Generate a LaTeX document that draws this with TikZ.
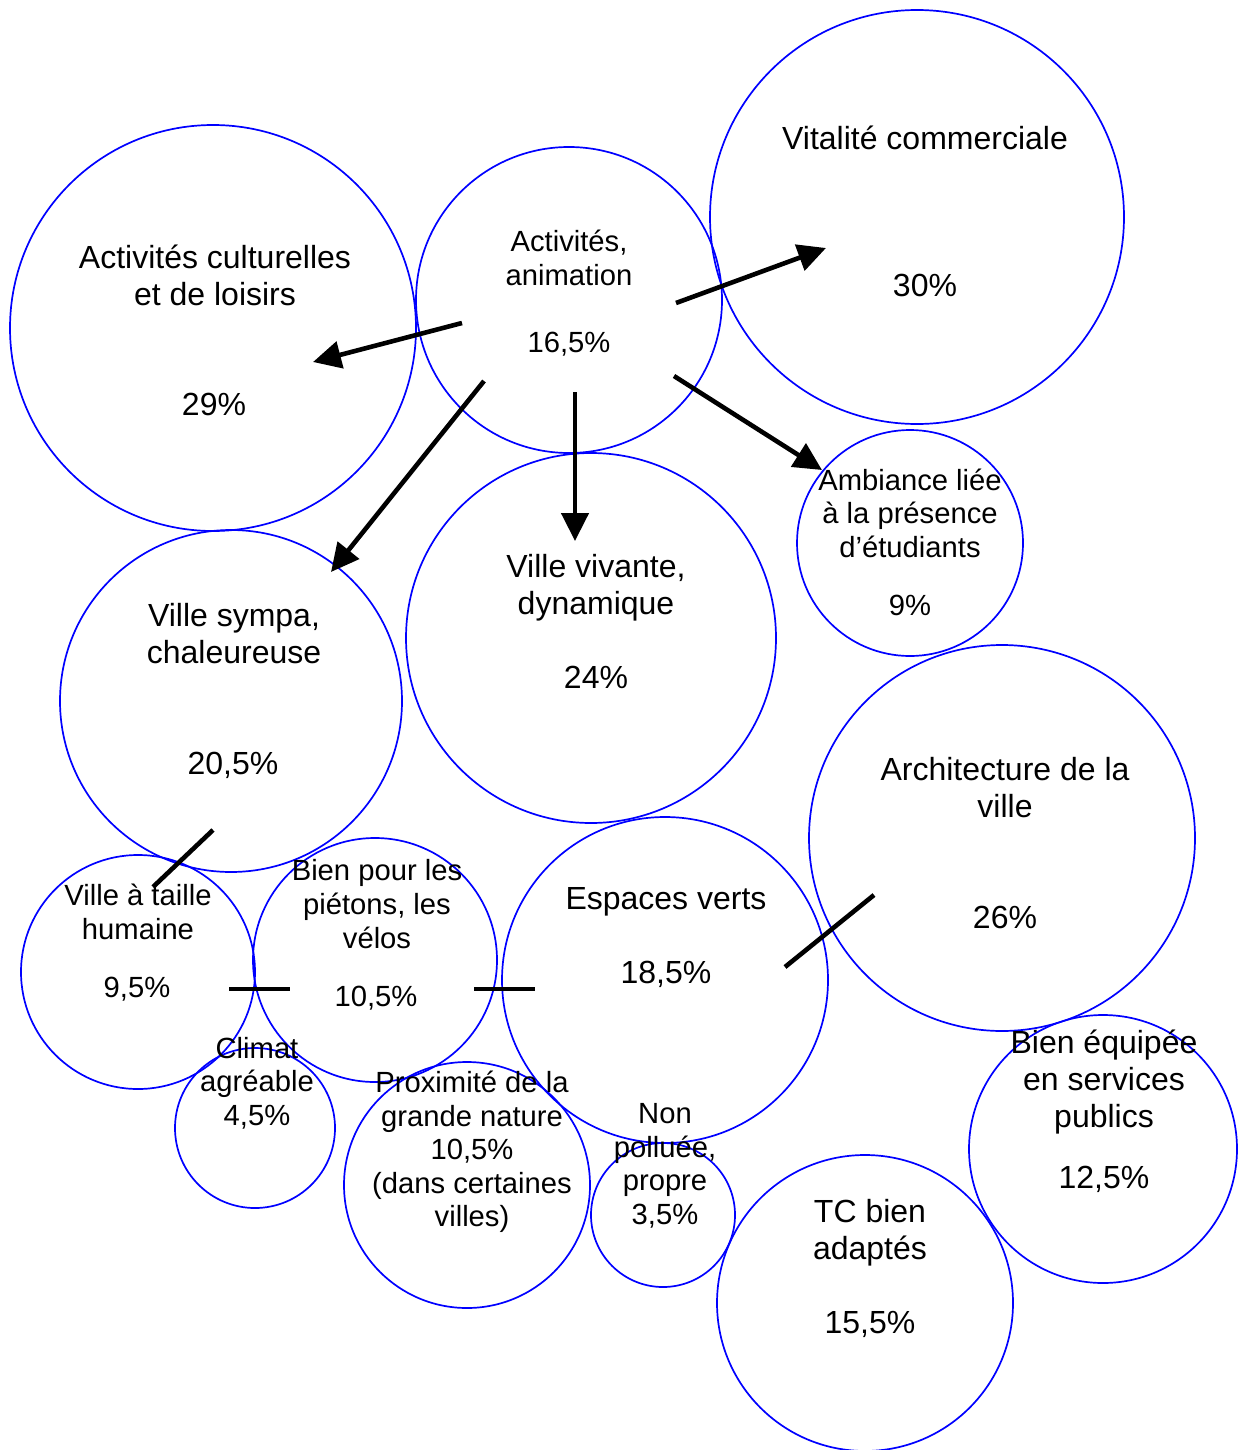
\documentclass[tikz,border=0pt]{standalone}
\usepackage{fontspec}
\setmainfont{Liberation Sans}
\usepackage{xcolor}
\usetikzlibrary{arrows.meta}
\definecolor{ringblue}{rgb}{0,0,1}

\begin{document}
\begin{tikzpicture}[x=0.5pt, y=-0.5pt,
  bubble/.style={circle, draw=ringblue, line width=0.85pt, inner sep=0pt},
  bigtxt/.style={align=center, font=\fontsize{16}{18.5}\selectfont},
  smalltxt/.style={align=center, font=\fontsize{14.6}{16.8}\selectfont},
  arrowline/.style={line width=2.3pt, -{Triangle[length=14pt, width=13.5pt]}},
  cutline/.style={line width=2.3pt}]

\useasboundingbox (0,0) rectangle (1241,1450);

% circles
\node (cult) at (213,328) [bubble, minimum size=203pt]{};
\node (anim) at (569,300) [bubble, minimum size=153pt]{};
\node (vital) at (917,217) [bubble, minimum size=207pt]{};
\node (amb) at (910,543) [bubble, minimum size=113pt]{};
\node (vivante) at (591,638) [bubble, minimum size=185pt]{};
\node (sympa) at (231,701) [bubble, minimum size=171pt]{};
\node (archi) at (1002,838) [bubble, minimum size=193pt]{};
\node (humaine) at (138,972) [bubble, minimum size=117pt]{};
\node (pietons) at (375,960) [bubble, minimum size=122pt]{};
\node (verts) at (665,980) [bubble, minimum size=163pt]{};
\node (climat) at (255,1128) [bubble, minimum size=80pt]{};
\node (proxim) at (467,1185) [bubble, minimum size=123pt]{};
\node (nonpol) at (663,1215) [bubble, minimum size=72pt]{};
\node (tc) at (865,1303) [bubble, minimum size=148pt]{};
\node (equip) at (1103,1149) [bubble, minimum size=134pt]{};

% labels
\node (cult-t) at (215,275) [bigtxt]{Activités culturelles\\et de loisirs};
\node (cult-p) at (214,404) [bigtxt]{29\%};
\node (anim-t) at (569,258) [smalltxt]{Activités,\\animation};
\node (anim-p) at (569,344) [smalltxt]{16,5\%};
\node (vital-t) at (925,138) [bigtxt]{Vitalité commerciale};
\node (vital-p) at (925,285) [bigtxt]{30\%};
\node (amb-t) at (910,513) [smalltxt]{Ambiance liée\\à la présence\\d’étudiants};
\node (amb-p) at (910,605) [smalltxt]{9\%};
\node (vivante-t) at (596,588) [bigtxt]{Ville vivante,\\dynamique};
\node (vivante-p) at (596,677) [bigtxt]{24\%};
\node (sympa-t) at (234,634) [bigtxt]{Ville sympa,\\chaleureuse};
\node (sympa-p) at (233,765) [bigtxt]{20,5\%};
\node (archi-t) at (1005,788) [bigtxt]{Architecture de la\\ville};
\node (archi-p) at (1005,917) [bigtxt]{26\%};
\node (humaine-t) at (138,912) [smalltxt]{Ville à taille\\humaine};
\node (humaine-p) at (137,989) [smalltxt]{9,5\%};
\node (pietons-t) at (377,904) [smalltxt]{Bien pour les\\piétons, les\\vélos};
\node (pietons-p) at (376,998) [smalltxt]{10,5\%};
\node (verts-t) at (666,902) [bigtxt]{Espaces verts};
\node (verts-p) at (666,974) [bigtxt]{18,5\%};
\node (climat-t) at (257,1083) [smalltxt]{Climat\\agréable\\4,5\%};
\node (proxim-t) at (472,1152) [smalltxt]{Proximité de la\\grande nature\\10,5\%\\(dans certaines\\villes)};
\node (nonpol-t) at (665,1166) [smalltxt]{Non\\polluée,\\propre\\3,5\%};
\node (tc-t) at (870,1233) [bigtxt]{TC bien\\adaptés};
\node (tc-p) at (870,1324) [bigtxt]{15,5\%};
\node (equip-t) at (1104,1082) [bigtxt]{Bien équipée\\en services\\publics};
\node (equip-p) at (1104,1179) [bigtxt]{12,5\%};

% arrows
\coordinate (a1s) at (462,323);
\coordinate (a1e) at (313,362);
\coordinate (a2s) at (676,303);
\coordinate (a2e) at (826,248);
\coordinate (a3s) at (484,381);
\coordinate (a3e) at (331,572);
\coordinate (a4s) at (575,392);
\coordinate (a4e) at (575,541);
\coordinate (a5s) at (674,376);
\coordinate (a5e) at (822,470);
\draw [arrowline] (a1s) -- (a1e);
\draw [arrowline] (a2s) -- (a2e);
\draw [arrowline] (a3s) -- (a3e);
\draw [arrowline] (a4s) -- (a4e);
\draw [arrowline] (a5s) -- (a5e);

% links
\coordinate (l1s) at (213,830);
\coordinate (l1e) at (153,887);
\coordinate (l2s) at (229,989);
\coordinate (l2e) at (290,989);
\coordinate (l3s) at (474,989);
\coordinate (l3e) at (535,989);
\coordinate (l4s) at (874,895);
\coordinate (l4e) at (785,967);
\draw [cutline] (l1s) -- (l1e);
\draw [cutline] (l2s) -- (l2e);
\draw [cutline] (l3s) -- (l3e);
\draw [cutline] (l4s) -- (l4e);

\end{tikzpicture}
\end{document}
